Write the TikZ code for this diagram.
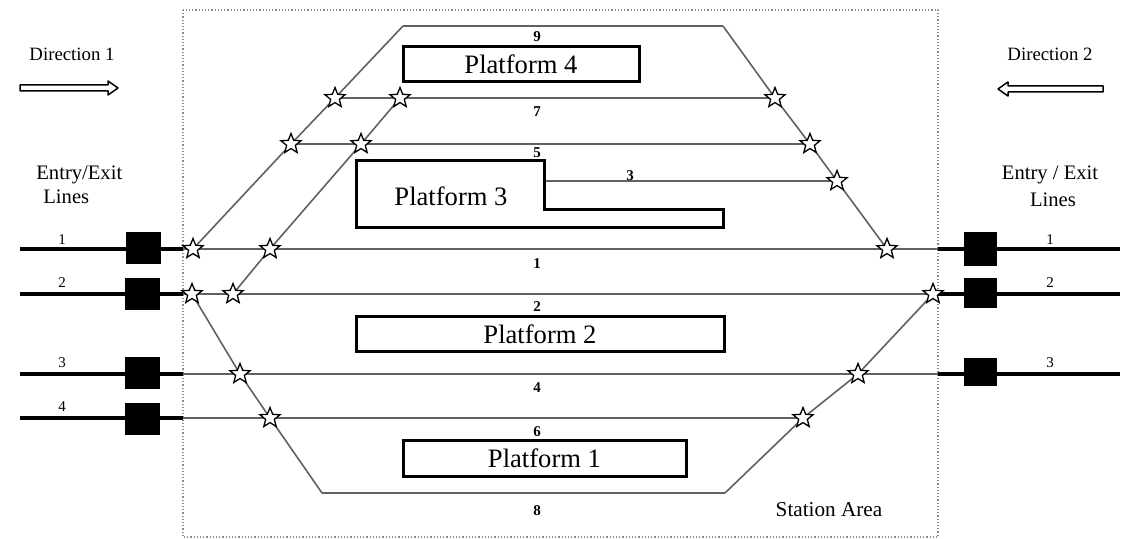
\documentclass[tikz,border=0pt]{standalone}
\usepackage{fontspec}
\setmainfont{Liberation Serif}
\usetikzlibrary{shapes.geometric}
\begin{document}
\begin{tikzpicture}[x=0.5pt,y=-0.5pt,
  track/.style={draw=black!62, line width=0.8pt},
  entry/.style={draw=black, line width=2pt},
  signal/.style={fill=black, minimum width=17.5pt, minimum height=16pt, inner sep=0pt},
  sw/.style={star, star points=5, star point ratio=2.3, minimum size=10.5pt, inner sep=0pt, draw=black, fill=white, line width=0.65pt},
  platform/.style={draw=black, line width=1.5pt, inner sep=0pt, font=\fontsize{13.3}{15}\selectfont},
  ptxt/.style={inner sep=0pt, font=\fontsize{13.3}{15}\selectfont},
  num/.style={inner sep=0pt, font=\fontsize{7.5}{8}\selectfont\bfseries},
  lbl/.style={inner sep=0pt, font=\fontsize{7.5}{8}\selectfont},
  txt/.style={inner sep=0pt, font=\fontsize{10.3}{12}\selectfont},
  harrow/.style={draw=black, line width=0.75pt, fill=white, line join=round}]
\useasboundingbox (0,0) rectangle (1124,539);
% station area
\draw[black!45, densely dotted, line width=0.6pt] (183,10) rectangle (938,537);
% points
\coordinate (c9L) at (403,26);  \coordinate (c9R) at (723,26);
\coordinate (c8L) at (322,493); \coordinate (c8R) at (725,493);
\coordinate (kA7) at (335,98);  \coordinate (kA5) at (291,144); \coordinate (kA1) at (193,249);
\coordinate (kB7) at (400,98);  \coordinate (kB5) at (361,144); \coordinate (kB1) at (270,249); \coordinate (kB2) at (233,294);
\coordinate (kL2) at (192,294); \coordinate (kL4) at (240,374); \coordinate (kL6) at (270,418);
\coordinate (kD7) at (775,98);  \coordinate (kD5) at (810,144); \coordinate (kD3) at (837,181); \coordinate (kD1) at (887,249);
\coordinate (kE2) at (933,294); \coordinate (kE4) at (858,374); \coordinate (kE6) at (803,418);
\coordinate (p3s) at (544,181);
\foreach \n/\y in {1/249,2/294,4/374,6/418}{
  \coordinate (L\n) at (20,\y); \coordinate (bL\n) at (183,\y);
  \coordinate (bR\n) at (938,\y); \coordinate (R\n) at (1120,\y);}
% tracks
\draw[track] (c9L) -- (c9R);
\draw[track] (kA7) -- (kD7);
\draw[track] (kA5) -- (kD5);
\draw[track] (p3s) -- (kD3);
\draw[track] (bL1) -- (bR1);
\draw[track] (bL2) -- (bR2);
\draw[track] (bL4) -- (bR4);
\draw[track] (bL6) -- (kE6);
\draw[track] (c8L) -- (c8R);
\draw[track] (c9L) -- (kA7) -- (kA5) -- (kA1);
\draw[track] (kB7) -- (kB5) -- (kB1) -- (kB2);
\draw[track] (kL2) -- (kL4) -- (kL6) -- (c8L);
\draw[track] (c9R) -- (kD7) -- (kD5) -- (kD3) -- (kD1);
\draw[track] (kE2) -- (kE4) -- (kE6) -- (c8R);
% entry / exit lines
\draw[entry] (L1) -- (bL1); \draw[entry] (L2) -- (bL2);
\draw[entry] (L4) -- (bL4); \draw[entry] (L6) -- (bL6);
\draw[entry] (bR1) -- (R1); \draw[entry] (bR2) -- (R2); \draw[entry] (bR4) -- (R4);
\node[signal] (sq1) at (143,248) {};
\node[signal] (sq2) at (142,294) {};
\node[signal] (sq3) at (142,373) {};
\node[signal] (sq4) at (142,419) {};
\node[signal, minimum width=16.5pt, minimum height=17pt] (sqR1) at (980,249) {};
\node[signal, minimum width=16.5pt, minimum height=15pt] (sqR2) at (980,293) {};
\node[signal, minimum width=16.5pt, minimum height=14pt] (sqR3) at (980,372) {};
% platforms
\node[platform, minimum width=118pt, minimum height=17.5pt] (pf4) at (521,64.5) {Platform 4};
\draw[black, line width=1.5pt] (356,161) -- (544,161) -- (544,210) -- (723,210) -- (723,228) -- (356,228) -- cycle;
\node[ptxt] (pf3) at (451,196) {Platform 3};
\node[platform, minimum width=184pt, minimum height=17.5pt] (pf2) at (540,334.5) {Platform 2};
\node[platform, minimum width=141.5pt, minimum height=17.5pt] (pf1) at (544.5,458.5) {Platform 1};
% switches
\foreach \s in {A7,A5,A1,B7,B5,B1,B2,L2,L4,L6,D7,D5,D3,D1,E2,E4,E6}{
  \node[sw] (s\s) at (k\s) {};}
% track numbers
\node[num] (n9) at (537,37) {9};
\node[num] (n7) at (537,112) {7};
\node[num] (n5) at (537,153) {5};
\node[num] (n3) at (630,176) {3};
\node[num] (n1) at (537,264) {1};
\node[num] (n2) at (537,307) {2};
\node[num] (n4) at (537,388) {4};
\node[num] (n6) at (537,432) {6};
\node[num] (n8) at (537,511) {8};
% entry line numbers
\node[lbl] (e1) at (62,240) {1};
\node[lbl] (e2) at (62,283) {2};
\node[lbl] (e3) at (62,363) {3};
\node[lbl] (e4) at (62,407) {4};
\node[lbl] (f1) at (1050,240) {1};
\node[lbl] (f2) at (1050,283) {2};
\node[lbl] (f3) at (1050,363) {3};
% labels
\node[txt, font=\fontsize{9.4}{11}\selectfont] (d1) at (72,54) {Direction 1};
\node[txt, font=\fontsize{9.4}{11}\selectfont] (d2) at (1050,54) {Direction 2};
\node[txt, anchor=west] (ee1) at (36,175) {Entry/Exit};
\node[txt, anchor=west] (ee1b) at (43,197) {Lines};
\node[txt] (ee2) at (1050,175) {Entry / Exit};
\node[txt] (ee2b) at (1053,200) {Lines};
\node[txt, font=\fontsize{10.6}{12}\selectfont] (sa) at (829,510) {Station Area};
% direction arrows
\draw[harrow] (20,85) -- (108,85) -- (108,81) -- (118,88) -- (108,95) -- (108,91) -- (20,91) -- cycle;
\draw[harrow] (1103,86) -- (1008,86) -- (1008,82) -- (998,89) -- (1008,96) -- (1008,92) -- (1103,92) -- cycle;
\end{tikzpicture}
\end{document}
